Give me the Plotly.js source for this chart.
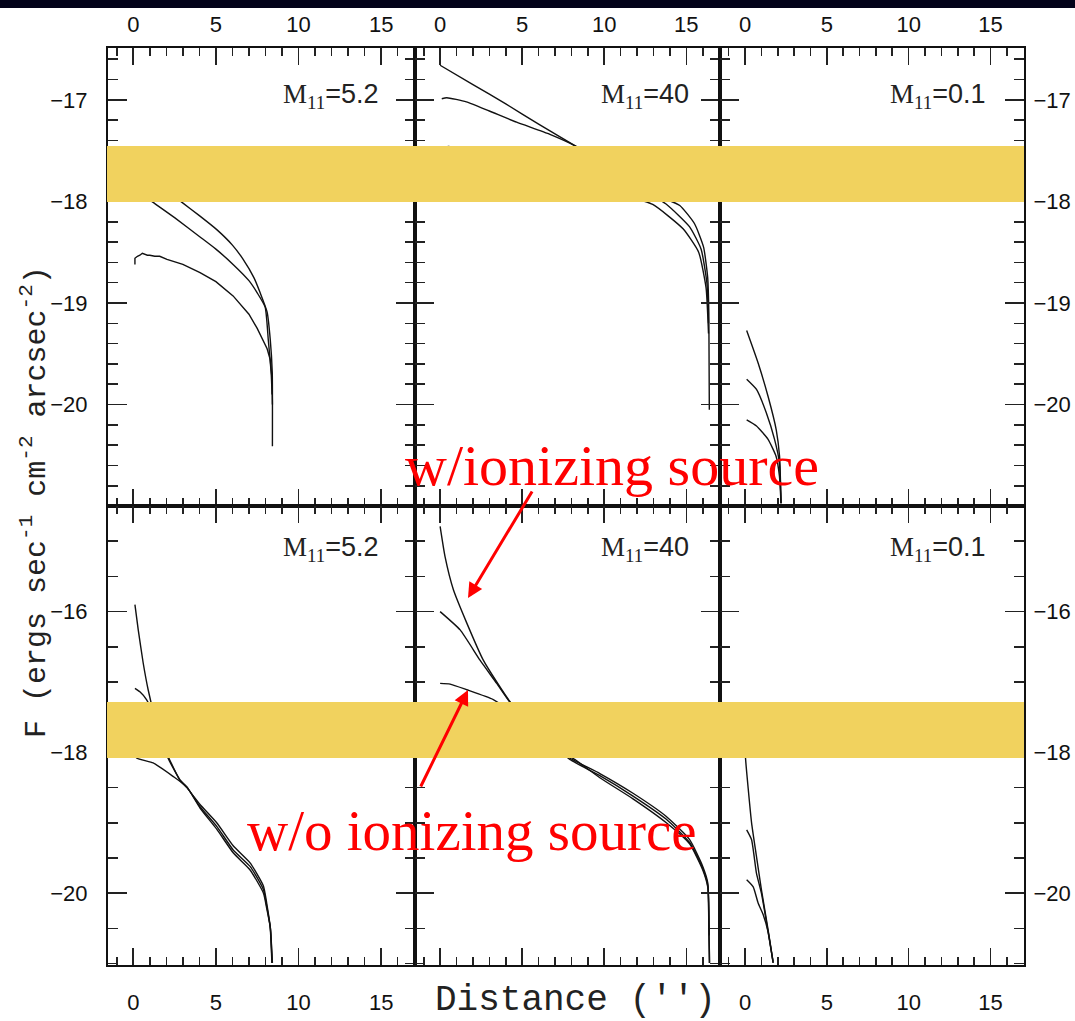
<!DOCTYPE html>
<html><head><meta charset="utf-8">
<script src="https://cdn.plot.ly/plotly-3.0.1.min.js"></script>
<style>html,body{margin:0;padding:0;background:#fff}</style>
</head><body><div id="chart" style="width:1075px;height:1021px"></div>
<script>
// ---- data (distance in arcsec, log F) ----
const panelLabels = ["M<sub>11</sub>", "=5.2", "=40", "=0.1"];
// top-left, M11=5.2
const tl_A_x = [0, 1.5, 2.95, 4.0, 5.07, 6.0, 6.65, 7.3, 7.68, 8.1, 8.29, 8.41, 8.42];
const tl_A_y = [-17.62, -17.82, -18.01, -18.14, -18.28, -18.43, -18.57, -18.75, -18.9, -19.09, -19.36, -19.68, -20.41];
const tl_B_x = [0, 1.2, 2.5, 4.04, 5.0, 6.04, 7.0, 7.5, 7.98, 8.17, 8.35, 8.4];
const tl_B_y = [-17.87, -18.01, -18.16, -18.35, -18.47, -18.62, -18.78, -18.9, -19.04, -19.36, -19.7, -19.9];
const tl_C_x = [0.1, 0.1, 0.25, 0.4, 0.55, 0.7, 0.85, 1.0, 1.3, 1.6, 2.04, 3.0, 4.04, 5.0, 6.04, 7.0, 7.5, 8.1, 8.29, 8.4, 8.42];
const tl_C_y = [-18.62, -18.56, -18.54, -18.53, -18.51, -18.52, -18.53, -18.53, -18.54, -18.54, -18.57, -18.62, -18.7, -18.79, -18.93, -19.11, -19.25, -19.45, -19.56, -19.75, -20.0];
// top-middle, M11=40
const tm_A_x = [0, 2, 4, 6, 8.31, 10, 12, 13.5, 14.6, 15.5, 16.05, 16.3, 16.37, 16.4];
const tm_A_y = [-16.66, -16.85, -17.04, -17.24, -17.46, -17.63, -17.84, -17.96, -18.04, -18.22, -18.45, -18.75, -19.1, -20.05];
const tm_B_x = [0.1, 0.4, 1.6, 3.0, 4.66, 6.69, 8.31, 10, 12, 13.8, 15.2, 15.9, 16.25, 16.35];
const tm_B_y = [-16.99, -16.98, -17.02, -17.11, -17.22, -17.34, -17.46, -17.63, -17.85, -18.03, -18.25, -18.47, -18.8, -19.2];
const tm_C_x = [0.1, 0.5, 1.5, 4, 8, 11, 12.95, 14.8, 15.75, 16.2, 16.35];
const tm_C_y = [-17.5, -17.46, -17.5, -17.62, -17.8, -17.93, -18.03, -18.27, -18.5, -18.85, -19.3];
// top-right, M11=0.1
const tr_A_x = [0.1, 0.8, 1.41, 1.91, 2.11, 2.2];
const tr_A_y = [-19.27, -19.59, -19.92, -20.25, -20.51, -20.97];
const tr_B_x = [0.1, 0.7, 1.3, 1.8, 2.1, 2.2];
const tr_B_y = [-19.75, -19.85, -20.08, -20.34, -20.57, -20.97];
const tr_C_x = [0.1, 0.7, 1.4, 1.9, 2.1, 2.2];
const tr_C_y = [-20.15, -20.21, -20.34, -20.51, -20.7, -20.97];
// bottom-left, M11=5.2
const bl_A_x = [0.1, 0.3, 0.6, 0.9, 1.3, 1.7, 2.1, 2.83, 3.24, 4.04, 5.05, 6.06, 7.07, 7.88, 8.08, 8.28, 8.39];
const bl_A_y = [-15.9, -16.26, -16.73, -17.11, -17.5, -17.8, -18.08, -18.39, -18.49, -18.77, -19.05, -19.39, -19.62, -19.95, -20.19, -20.47, -20.99];
const bl_B_x = [0.1, 0.4, 0.8, 1.3, 1.8, 2.1, 2.83, 3.24, 4.04, 5.05, 6.06, 7.07, 7.88, 8.08, 8.3, 8.42];
const bl_B_y = [-17.09, -17.14, -17.25, -17.5, -17.85, -18.05, -18.4, -18.5, -18.74, -19.0, -19.33, -19.57, -19.9, -20.15, -20.5, -20.99];
const bl_C_x = [0, 0.2, 1.2, 2.4, 3.24, 4.04, 5.05, 6.06, 7.07, 7.88, 8.08, 8.3, 8.4];
const bl_C_y = [-17.95, -18.08, -18.15, -18.34, -18.49, -18.79, -19.09, -19.43, -19.67, -20.0, -20.22, -20.5, -20.99];
// bottom-middle, M11=40
const bm_A_x = [0, 0.3, 0.81, 1.62, 2.63, 3.45, 4.26, 5.5, 6.8, 7.9, 9.73, 11.75, 13.78, 15.2, 16.0, 16.31, 16.37, 16.4];
const bm_A_y = [-14.79, -15.22, -15.69, -16.16, -16.69, -17.0, -17.28, -17.58, -17.86, -18.08, -18.3, -18.58, -18.91, -19.24, -19.62, -19.86, -20.47, -20.99];
const bm_B_x = [0, 1.22, 2.43, 3.45, 4.26, 5.5, 6.8, 7.9, 9.73, 11.75, 13.78, 15.2, 16.0, 16.31, 16.37, 16.42];
const bm_B_y = [-16.0, -16.26, -16.69, -17.02, -17.29, -17.6, -17.88, -18.1, -18.33, -18.62, -18.95, -19.28, -19.65, -19.9, -20.5, -20.99];
const bm_C_x = [0, 0.61, 1.62, 3.24, 4.5, 6.0, 7.5, 8.2, 9.73, 11.75, 13.78, 15.2, 16.0, 16.31, 16.4];
const bm_C_y = [-17.02, -17.03, -17.11, -17.25, -17.45, -17.72, -18.0, -18.1, -18.36, -18.66, -19.0, -19.3, -19.67, -19.92, -20.6];
// bottom-right, M11=0.1
const br_A_x = [0, 0.03, 0.2, 0.4, 0.7, 1.0, 1.41, 1.71];
const br_A_y = [-17.7, -18.08, -18.53, -19.0, -19.48, -19.95, -20.52, -20.97];
const br_B_x = [0.1, 0.4, 0.7, 1.0, 1.41, 1.72];
const br_B_y = [-19.1, -19.24, -19.72, -20.0, -20.55, -20.99];
const br_C_x = [0.1, 0.5, 0.8, 1.1, 1.41, 1.72];
const br_C_y = [-19.81, -19.91, -20.14, -20.3, -20.55, -20.99];

const xRange = [-1.53, 17.05];
const topYRange = [-20.998, -16.49];
const botYRange = [-21.02, -14.5];

// ---- geometry helpers (pixels -> paper) ----
const W = 1075, H = 1021;
const px = v => v / W;
const py = v => 1 - v / H;

const curves = [
  [tl_A_x, tl_A_y, 1, 1], [tl_B_x, tl_B_y, 1, 1], [tl_C_x, tl_C_y, 1, 0],
  [tm_A_x, tm_A_y, 2, 1], [tm_B_x, tm_B_y, 2, 1], [tm_C_x, tm_C_y, 2, 1],
  [tr_A_x, tr_A_y, 3, 1], [tr_B_x, tr_B_y, 3, 1], [tr_C_x, tr_C_y, 3, 1],
  [bl_A_x, bl_A_y, 4, 1], [bl_B_x, bl_B_y, 4, 1], [bl_C_x, bl_C_y, 4, 1],
  [bm_A_x, bm_A_y, 5, 1], [bm_B_x, bm_B_y, 5, 1], [bm_C_x, bm_C_y, 5, 1],
  [br_A_x, br_A_y, 6, 1], [br_B_x, br_B_y, 6, 1], [br_C_x, br_C_y, 6, 1]
];
const traces = curves.map(c => ({
  x: c[0], y: c[1], type: 'scatter', mode: 'lines',
  xaxis: c[2] === 1 ? 'x' : 'x' + c[2], yaxis: c[2] === 1 ? 'y' : 'y' + c[2],
  line: c[3] ? {color: '#111', width: 1.4, shape: 'spline', smoothing: 0.5} : {color: '#111', width: 1.4},
  hoverinfo: 'skip'
}));

const colDom = [[px(108), px(415)], [px(415), px(720)], [px(720), px(1024)]];
const rowDom = [[py(506), py(48)], [py(965), py(506)]];
const tickFont = {family: 'Liberation Sans, Arial, sans-serif', size: 22, color: '#111'};

const layout = {
  width: W, height: H, margin: {l: 0, r: 0, t: 0, b: 0},
  paper_bgcolor: '#fff', plot_bgcolor: '#fff', showlegend: false,
  shapes: [], annotations: []
};
for (let i = 1; i <= 6; i++) {
  const row = i <= 3 ? 0 : 1, col = (i - 1) % 3;
  const xk = i === 1 ? 'xaxis' : 'xaxis' + i, yk = i === 1 ? 'yaxis' : 'yaxis' + i;
  const yId = i === 1 ? 'y' : 'y' + i, xId = i === 1 ? 'x' : 'x' + i;
  layout[xk] = {
    domain: colDom[col], anchor: yId, range: xRange, side: row === 0 ? 'top' : 'bottom',
    tick0: 0, dtick: 5, ticks: 'inside', ticklen: 17, tickwidth: 1.6, tickcolor: '#222',
    minor: {dtick: 1, tick0: 0, ticks: 'inside', ticklen: 8, tickwidth: 1.6, tickcolor: '#222', showgrid: false},
    showline: true, linewidth: 2, linecolor: '#111', mirror: 'ticks',
    showgrid: false, zeroline: false, tickfont: tickFont,
    showticklabels: !(row === 1 && col === 1),
    ticklabelstandoff: row === 0 ? 5 : 17, fixedrange: true
  };
  layout[yk] = {
    domain: rowDom[row], anchor: xId, range: row === 0 ? topYRange : botYRange,
    side: col === 2 ? 'right' : 'left',
    tick0: 0, dtick: row === 0 ? 1 : 2, ticks: 'inside', ticklen: 19, tickwidth: 1.6, tickcolor: '#222',
    minor: {dtick: row === 0 ? 0.2 : 0.5, tick0: 0, ticks: 'inside', ticklen: 10, tickwidth: 1.6, tickcolor: '#222', showgrid: false},
    showline: true, linewidth: 2, linecolor: '#111', mirror: 'ticks',
    showgrid: false, zeroline: false, tickfont: tickFont,
    showticklabels: col !== 1, ticklabelstandoff: col === 0 ? 14 : 3, fixedrange: true
  };
}

// panel labels
const labelRight = [381, 691, 988];
const labelY = [96, 549];
const labelVals = [panelLabels[1], panelLabels[2], panelLabels[3]];
for (let r = 0; r < 2; r++) for (let c = 0; c < 3; c++) {
  layout.annotations.push({
    xref: 'paper', yref: 'paper', x: px(labelRight[c]), y: py(labelY[r]),
    xanchor: 'right', yanchor: 'middle', showarrow: false,
    text: panelLabels[0] + '<span style="font-family:Liberation Sans">' + labelVals[c] + '</span>',
    font: {family: 'Liberation Serif, serif', size: 27, color: '#222'}
  });
}

// axis titles
layout.annotations.push({
  xref: 'paper', yref: 'paper', x: px(575), y: py(1000), xanchor: 'center', yanchor: 'middle',
  showarrow: false, text: "Distance ('')",
  font: {family: 'Liberation Mono, monospace', size: 36, color: '#222'}
});
layout.annotations.push({
  xref: 'paper', yref: 'paper', x: px(34), y: py(502), xanchor: 'center', yanchor: 'middle',
  showarrow: false, textangle: -90,
  text: 'F (ergs sec<sup>-1</sup> cm<sup>-2</sup> arcsec<sup>-2</sup>)',
  font: {family: 'Liberation Mono, monospace', size: 30, color: '#222'}
});

// yellow bands + top dark strip
layout.shapes.push({type: 'rect', xref: 'paper', yref: 'paper', x0: px(107), x1: px(1024), y0: py(202), y1: py(146),
  fillcolor: '#F1D25E', line: {width: 0}, layer: 'above'});
layout.shapes.push({type: 'rect', xref: 'paper', yref: 'paper', x0: px(107), x1: px(1024), y0: py(758), y1: py(702),
  fillcolor: '#F1D25E', line: {width: 0}, layer: 'above'});
layout.shapes.push({type: 'rect', xref: 'paper', yref: 'paper', x0: 0, x1: 1, y0: py(8), y1: 1,
  fillcolor: '#03031a', line: {width: 0}, layer: 'above'});

// red callouts
layout.annotations.push({
  xref: 'paper', yref: 'paper', x: px(612), y: py(465), xanchor: 'center', yanchor: 'middle',
  showarrow: false, text: 'w/ionizing source',
  font: {family: 'Liberation Serif, Times New Roman, serif', size: 58, color: '#ff0000'}
});
layout.annotations.push({
  xref: 'paper', yref: 'paper', x: px(472), y: py(830), xanchor: 'center', yanchor: 'middle',
  showarrow: false, text: 'w/o ionizing source',
  font: {family: 'Liberation Serif, Times New Roman, serif', size: 57, color: '#ff0000'}
});
layout.annotations.push({
  xref: 'paper', yref: 'paper', x: px(468), y: py(598), text: '', showarrow: true,
  ax: 65, ay: -108, arrowhead: 2, arrowsize: 1, arrowwidth: 3, arrowcolor: '#ff0000'
});
layout.annotations.push({
  xref: 'paper', yref: 'paper', x: px(468), y: py(690), text: '', showarrow: true,
  ax: -48, ay: 98, arrowhead: 2, arrowsize: 1, arrowwidth: 3, arrowcolor: '#ff0000'
});

Plotly.newPlot('chart', traces, layout, {staticPlot: true, displayModeBar: false});
</script>
</body></html>
